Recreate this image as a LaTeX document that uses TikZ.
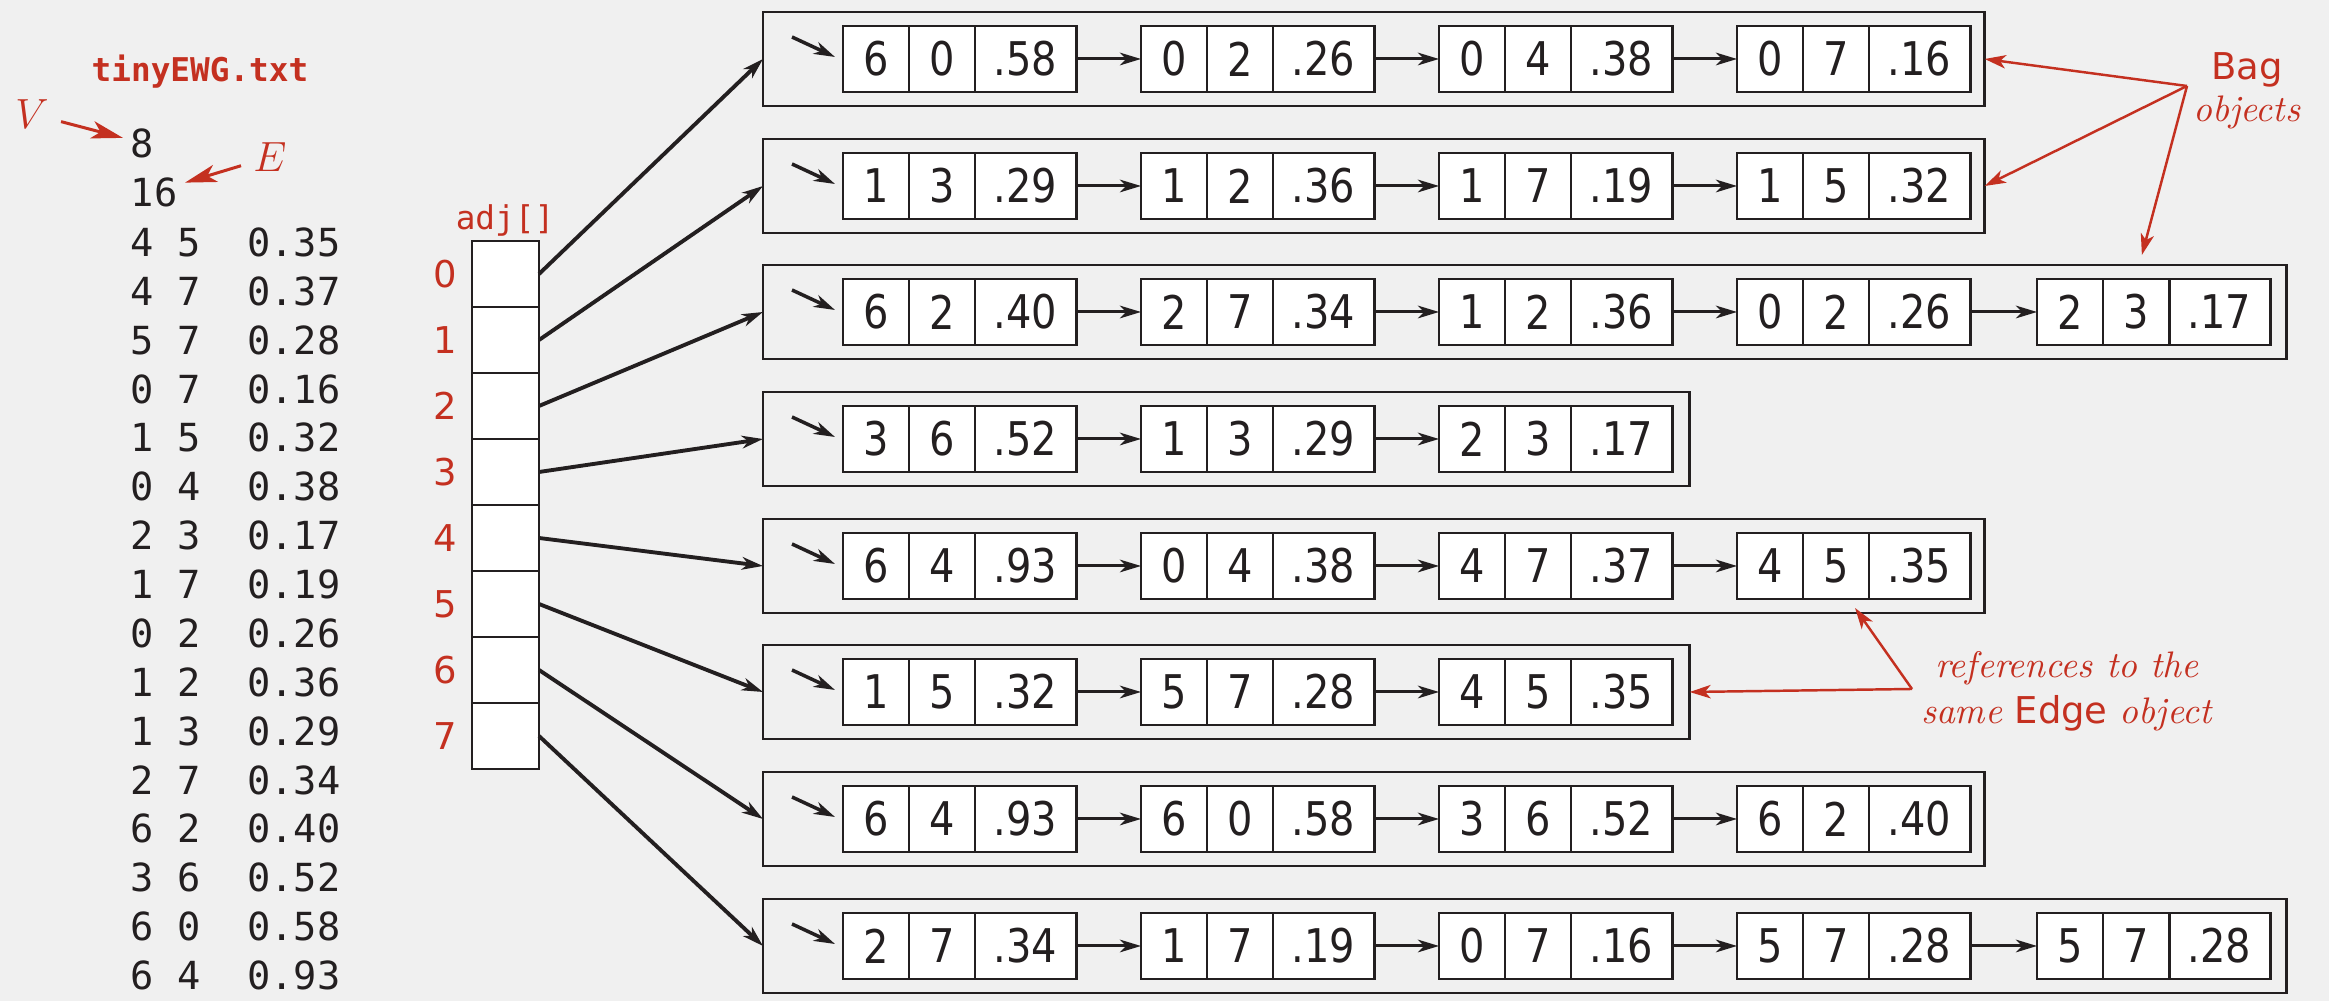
\documentclass[tikz,border=0pt]{standalone}
\usepackage{fontspec}
\usepackage{tikz}
\usetikzlibrary{arrows.meta}
\newfontfamily\cellfont[FakeStretch=0.86]{DejaVu Sans}
\newfontfamily\sanslbl{DejaVu Sans}
\newfontfamily\monofile{DejaVu Sans Mono}
\definecolor{ink}{RGB}{35,31,32}
\definecolor{hired}{RGB}{196,48,32}
\definecolor{paper}{RGB}{240,240,240}
% one Edge object: three cells v | w | weight
\newcommand{\edgeobj}[6]{%
  \node[cellbox,anchor=west] (#1v) at (#2,#3) {#4};
  \node[cellbox,anchor=west] (#1w) at (#1v.east) {#5};
  \node[wtbox,anchor=west] (#1wt) at (#1w.east) {#6};
}
\tikzset{
  cellbox/.style = {draw=ink, fill=white, line width=0.8pt, inner sep=0pt, outer sep=0pt,
                    minimum width=0.66cm, minimum height=0.66cm,
                    font=\cellfont\fontsize{13.2}{15}\selectfont, text=ink},
  wtbox/.style   = {cellbox, minimum width=1.01cm},
  bagbox/.style  = {draw=ink, line width=0.8pt, inner sep=0pt, outer sep=0pt,
                    minimum height=0.94cm, anchor=west},
  adjbox/.style  = {draw=ink, fill=white, line width=0.8pt, inner sep=0pt, outer sep=0pt,
                    minimum width=0.67cm, minimum height=0.66cm},
  linkar/.style  = {-{Stealth[length=6pt,width=3.6pt,inset=1.8pt]}, ink, line width=0.85pt},
  ptrar/.style   = {linkar, line width=1.1pt},
  headar/.style  = {linkar, line width=1pt},
  redar/.style   = {-{Stealth[length=6pt,width=3.8pt,inset=1.6pt]}, hired, line width=0.7pt},
  bigredar/.style= {-{Stealth[length=9pt,width=5pt,inset=2.4pt]}, hired, line width=0.85pt},
  idxlbl/.style  = {text=hired, font=\sanslbl\fontsize{10.5}{12}\selectfont, inner sep=0pt},
  filetxt/.style = {text=ink, font=\monofile\fontsize{11}{13.9}\selectfont},
  redmono/.style = {text=hired, font=\monofile\fontsize{9.3}{11}\selectfont},
  rednote/.style = {text=hired, align=center}
}

\begin{document}
\begin{tikzpicture}[x=0.01cm,y=0.01cm]
  \useasboundingbox (0,0) rectangle (2329,-1001);
  \fill[paper] (0,0) rectangle (2329,-1001);

  % input file
  \node[redmono,font=\monofile\bfseries\fontsize{9.3}{11}\selectfont] (title) at (200,-72) {tinyEWG.txt};
  \node[filetxt,anchor=west,inner sep=2pt] (nv) at (123,-143) {8};
  \node[filetxt,anchor=west,inner sep=2pt] (ne) at (123,-192) {16};
  \node[filetxt,anchor=north west,inner sep=0pt,align=left] (elist) at (130,-227)
    {4 5\ \ 0.35\\4 7\ \ 0.37\\5 7\ \ 0.28\\0 7\ \ 0.16\\1 5\ \ 0.32\\0 4\ \ 0.38\\
     2 3\ \ 0.17\\1 7\ \ 0.19\\0 2\ \ 0.26\\1 2\ \ 0.36\\1 3\ \ 0.29\\2 7\ \ 0.34\\
     6 2\ \ 0.40\\3 6\ \ 0.52\\6 0\ \ 0.58\\6 4\ \ 0.93};
  \node[text=hired,font=\fontsize{12}{14}\selectfont] (vlbl) at (32,-114) {$V$};
  \node[text=hired,font=\fontsize{12}{14}\selectfont] (elbl) at (270,-157) {$E$};
  \draw[bigredar] (vlbl) -- (nv);
  \draw[bigredar] (elbl) -- (ne);

  % adj[] array
  \node[redmono] (adjlbl) at (505,-220) {adj[]};
  \node[adjbox] (adj0) at (505.5,-274) {};
  \node[adjbox] (adj1) at (505.5,-340) {};
  \node[adjbox] (adj2) at (505.5,-406) {};
  \node[adjbox] (adj3) at (505.5,-472) {};
  \node[adjbox] (adj4) at (505.5,-538) {};
  \node[adjbox] (adj5) at (505.5,-604) {};
  \node[adjbox] (adj6) at (505.5,-670) {};
  \node[adjbox] (adj7) at (505.5,-736) {};
  \node[idxlbl] (i0) at (445,-274) {0};
  \node[idxlbl] (i1) at (445,-340) {1};
  \node[idxlbl] (i2) at (445,-406) {2};
  \node[idxlbl] (i3) at (445,-472) {3};
  \node[idxlbl] (i4) at (445,-538) {4};
  \node[idxlbl] (i5) at (445,-604) {5};
  \node[idxlbl] (i6) at (445,-670) {6};
  \node[idxlbl] (i7) at (445,-736) {7};

  % Bag objects
  \node[bagbox,minimum width=12.21cm] (bag0) at (763,-59) {};
  \node[bagbox,minimum width=12.21cm] (bag1) at (763,-186) {};
  \node[bagbox,minimum width=15.23cm] (bag2) at (763,-312) {};
  \node[bagbox,minimum width=9.26cm]  (bag3) at (763,-439) {};
  \node[bagbox,minimum width=12.21cm] (bag4) at (763,-566) {};
  \node[bagbox,minimum width=9.26cm]  (bag5) at (763,-692) {};
  \node[bagbox,minimum width=12.21cm] (bag6) at (763,-819) {};
  \node[bagbox,minimum width=15.23cm] (bag7) at (763,-946) {};

  % row 0
  \edgeobj{e00}{843}{-59}{6}{0}{.58}
  \edgeobj{e01}{1141}{-59}{0}{2}{.26}
  \edgeobj{e02}{1439}{-59}{0}{4}{.38}
  \edgeobj{e03}{1737}{-59}{0}{7}{.16}
  % row 1
  \edgeobj{e10}{843}{-186}{1}{3}{.29}
  \edgeobj{e11}{1141}{-186}{1}{2}{.36}
  \edgeobj{e12}{1439}{-186}{1}{7}{.19}
  \edgeobj{e13}{1737}{-186}{1}{5}{.32}
  % row 2
  \edgeobj{e20}{843}{-312}{6}{2}{.40}
  \edgeobj{e21}{1141}{-312}{2}{7}{.34}
  \edgeobj{e22}{1439}{-312}{1}{2}{.36}
  \edgeobj{e23}{1737}{-312}{0}{2}{.26}
  \edgeobj{e24}{2037}{-312}{2}{3}{.17}
  % row 3
  \edgeobj{e30}{843}{-439}{3}{6}{.52}
  \edgeobj{e31}{1141}{-439}{1}{3}{.29}
  \edgeobj{e32}{1439}{-439}{2}{3}{.17}
  % row 4
  \edgeobj{e40}{843}{-566}{6}{4}{.93}
  \edgeobj{e41}{1141}{-566}{0}{4}{.38}
  \edgeobj{e42}{1439}{-566}{4}{7}{.37}
  \edgeobj{e43}{1737}{-566}{4}{5}{.35}
  % row 5
  \edgeobj{e50}{843}{-692}{1}{5}{.32}
  \edgeobj{e51}{1141}{-692}{5}{7}{.28}
  \edgeobj{e52}{1439}{-692}{4}{5}{.35}
  % row 6
  \edgeobj{e60}{843}{-819}{6}{4}{.93}
  \edgeobj{e61}{1141}{-819}{6}{0}{.58}
  \edgeobj{e62}{1439}{-819}{3}{6}{.52}
  \edgeobj{e63}{1737}{-819}{6}{2}{.40}
  % row 7
  \edgeobj{e70}{843}{-946}{2}{7}{.34}
  \edgeobj{e71}{1141}{-946}{1}{7}{.19}
  \edgeobj{e72}{1439}{-946}{0}{7}{.16}
  \edgeobj{e73}{1737}{-946}{5}{7}{.28}
  \edgeobj{e74}{2037}{-946}{5}{7}{.28}

  % links inside each bag
  \draw[linkar] (e00wt) -- (e01v);
  \draw[linkar] (e01wt) -- (e02v);
  \draw[linkar] (e02wt) -- (e03v);
  \draw[linkar] (e10wt) -- (e11v);
  \draw[linkar] (e11wt) -- (e12v);
  \draw[linkar] (e12wt) -- (e13v);
  \draw[linkar] (e20wt) -- (e21v);
  \draw[linkar] (e21wt) -- (e22v);
  \draw[linkar] (e22wt) -- (e23v);
  \draw[linkar] (e23wt) -- (e24v);
  \draw[linkar] (e30wt) -- (e31v);
  \draw[linkar] (e31wt) -- (e32v);
  \draw[linkar] (e40wt) -- (e41v);
  \draw[linkar] (e41wt) -- (e42v);
  \draw[linkar] (e42wt) -- (e43v);
  \draw[linkar] (e50wt) -- (e51v);
  \draw[linkar] (e51wt) -- (e52v);
  \draw[linkar] (e60wt) -- (e61v);
  \draw[linkar] (e61wt) -- (e62v);
  \draw[linkar] (e62wt) -- (e63v);
  \draw[linkar] (e70wt) -- (e71v);
  \draw[linkar] (e71wt) -- (e72v);
  \draw[linkar] (e72wt) -- (e73v);
  \draw[linkar] (e73wt) -- (e74v);

  % first-node pointers
  \draw[headar] ([shift={(-51,22)}]e00v.west) -- ([shift={(-8,2)}]e00v.west);
  \draw[headar] ([shift={(-51,22)}]e10v.west) -- ([shift={(-8,2)}]e10v.west);
  \draw[headar] ([shift={(-51,22)}]e20v.west) -- ([shift={(-8,2)}]e20v.west);
  \draw[headar] ([shift={(-51,22)}]e30v.west) -- ([shift={(-8,2)}]e30v.west);
  \draw[headar] ([shift={(-51,22)}]e40v.west) -- ([shift={(-8,2)}]e40v.west);
  \draw[headar] ([shift={(-51,22)}]e50v.west) -- ([shift={(-8,2)}]e50v.west);
  \draw[headar] ([shift={(-51,22)}]e60v.west) -- ([shift={(-8,2)}]e60v.west);
  \draw[headar] ([shift={(-51,22)}]e70v.west) -- ([shift={(-8,2)}]e70v.west);

  % array entries to bags
  \draw[ptrar] (adj0.east) -- (bag0.west);
  \draw[ptrar] (adj1.east) -- (bag1.west);
  \draw[ptrar] (adj2.east) -- (bag2.west);
  \draw[ptrar] (adj3.east) -- (bag3.west);
  \draw[ptrar] (adj4.east) -- (bag4.west);
  \draw[ptrar] (adj5.east) -- (bag5.west);
  \draw[ptrar] (adj6.east) -- (bag6.west);
  \draw[ptrar] (adj7.east) -- (bag7.west);

  % notes
  \node[rednote,font=\fontsize{10.5}{12}\selectfont] (bagtxt) at (2247,-91)
    {{\sanslbl Bag}\\\textit{objects}};
  \coordinate (bagpt) at (2187,-86);
  \draw[redar] (bagpt) -- (bag0.east);
  \draw[redar] (bagpt) -- (bag1.east);
  \draw[redar] (bagpt) -- ([shift={(-145,10)}]bag2.north east);
  \node[rednote,font=\fontsize{10.5}{13}\selectfont] (reftxt) at (2067,-691)
    {\textit{references to the}\\\textit{same} {\sanslbl Edge} \textit{object}};
  \coordinate (refpt) at (1912,-689);
  \draw[redar] (refpt) -- ([shift={(19,-9)}]e43w.south);
  \draw[redar] (refpt) -- (bag5.east);
\end{tikzpicture}
\end{document}
